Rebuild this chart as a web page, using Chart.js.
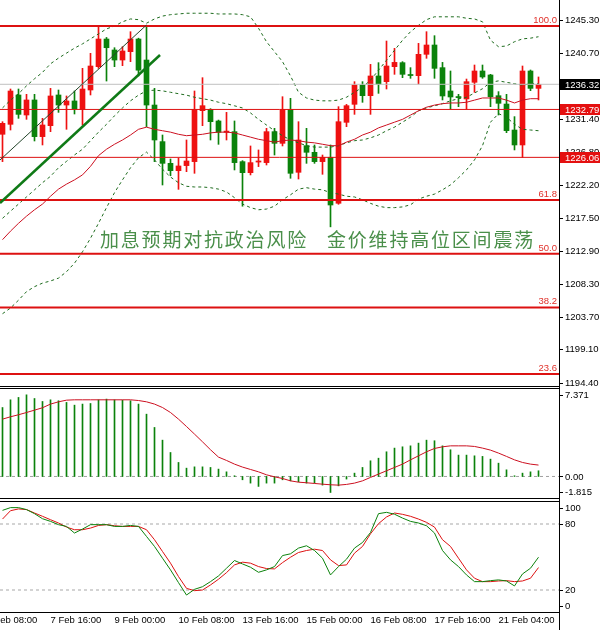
<!DOCTYPE html>
<html>
<head>
<meta charset="utf-8">
<script src="https://cdn.jsdelivr.net/npm/chart.js@4.4.0/dist/chart.umd.min.js"></script>
<style>
  html, body { margin: 0; padding: 0; background: #fff; }
  #wrap { position: relative; width: 600px; height: 630px; overflow: hidden; }
  #wrap canvas { position: absolute; left: 0; }
</style>
</head>
<body>
<div id="wrap">
  <canvas id="mainChart" width="600" height="387" style="top:0"></canvas>
  <canvas id="macdChart" width="600" height="113" style="top:387px"></canvas>
  <canvas id="stochChart" width="600" height="130" style="top:500px"></canvas>
</div>
<script>
// H4 gold candles, 6 Feb .. 21 Feb
const opens = [1229.30,1230.70,1234.82,1232.01,1234.12,1228.97,1230.51,1234.82,1233.41,1233.98,
  1232.81,1235.52,1238.80,1242.68,1241.14,1239.73,1240.90,1242.68,1239.73,1233.41,
  1228.27,1225.22,1224.19,1224.90,1225.46,1232.62,1232.81,1231.17,1229.58,1229.67,
  1225.46,1223.91,1225.40,1225.32,1229.67,1228.03,1232.81,1223.96,1227.70,1226.77,
  1225.46,1226.07,1219.61,1230.98,1233.51,1236.22,1234.72,1237.49,1236.69,1238.80,
  1239.36,1237.70,1237.53,1240.53,1241.84,1238.66,1235.38,1234.60,1234.26,1236.60,
  1238.19,1237.63,1234.72,1233.55,1229.90,1227.80,1238.19,1235.75];
const highs = [1231.07,1235.66,1235.66,1234.91,1234.91,1231.54,1235.75,1235.52,1234.68,1235.38,
  1238.56,1240.67,1244.55,1242.90,1241.46,1241.60,1243.71,1242.80,1244.51,1235.75,
  1229.20,1225.83,1225.93,1228.50,1235.38,1237.25,1232.90,1231.30,1232.38,1231.17,
  1225.60,1227.66,1227.10,1230.14,1230.14,1234.58,1234.35,1231.07,1230.14,1227.80,
  1226.39,1227.80,1233.18,1233.50,1236.69,1236.69,1239.12,1239.36,1242.40,1241.37,
  1239.50,1238.66,1242.07,1243.71,1243.15,1239.40,1238.19,1234.91,1237.06,1239.03,
  1239.03,1237.72,1235.29,1234.91,1231.78,1238.89,1238.33,1237.35];
const lows = [1225.46,1229.90,1231.54,1231.40,1228.36,1227.80,1229.67,1232.38,1230.00,1232.15,
  1230.61,1234.82,1238.56,1236.78,1238.80,1238.94,1239.50,1237.50,1230.37,1225.46,
  1222.18,1223.49,1221.57,1224.05,1223.82,1230.51,1228.50,1227.89,1228.50,1224.29,
  1219.20,1223.59,1224.76,1224.99,1226.39,1227.66,1223.12,1223.02,1225.22,1225.22,
  1223.68,1216.30,1219.47,1230.37,1232.10,1233.79,1232.10,1235.05,1235.66,1237.72,
  1237.25,1237.16,1236.36,1239.97,1237.16,1234.12,1232.85,1233.18,1232.85,1235.19,
  1237.16,1233.18,1232.01,1229.53,1227.10,1226.06,1235.43,1234.12];
const closes = [1230.84,1235.38,1232.10,1234.12,1228.97,1230.61,1234.68,1233.41,1233.98,1232.85,
  1235.66,1238.89,1242.68,1241.46,1239.73,1241.00,1242.68,1238.30,1233.41,1228.50,
  1225.22,1224.19,1224.85,1225.55,1232.81,1233.32,1231.07,1229.58,1229.75,1225.32,
  1223.91,1225.32,1225.55,1229.67,1228.03,1232.81,1223.82,1228.50,1226.77,1225.46,
  1226.07,1219.37,1231.07,1233.32,1236.22,1234.72,1237.49,1236.36,1238.89,1239.40,
  1237.72,1237.55,1240.53,1241.84,1238.56,1234.68,1234.54,1234.45,1236.69,1238.19,
  1237.35,1234.58,1233.65,1229.81,1227.80,1238.19,1235.75,1236.32];

// Bollinger bands and the red moving average
const bbUpper = [1233.0,1234.1,1235.0,1236.1,1237.1,1238.0,1239.2,1240.0,1240.7,1241.4,
  1242.0,1242.7,1243.4,1244.1,1244.5,1245.1,1245.5,1245.4,1244.9,1245.5,
  1245.9,1246.1,1246.2,1246.3,1246.3,1246.3,1246.3,1246.2,1246.2,1246.2,
  1246.1,1245.8,1244.2,1242.3,1240.9,1239.5,1237.5,1235.2,1234.4,1234.1,
  1234.0,1234.0,1234.1,1234.5,1235.2,1235.9,1236.9,1238.3,1239.7,1241.1,
  1242.5,1243.7,1244.6,1245.4,1245.8,1245.8,1245.8,1245.8,1245.6,1245.5,
  1245.1,1242.5,1241.6,1241.7,1242.3,1242.7,1242.8,1243.0];
const bbMid = [1217.5,1218.5,1219.5,1220.5,1221.5,1222.5,1223.4,1224.6,1225.5,1226.4,
  1227.2,1228.4,1229.6,1230.7,1231.9,1233.0,1234.0,1234.8,1235.4,1235.5,
  1235.4,1235.2,1235.0,1234.8,1234.5,1234.3,1234.1,1233.8,1233.6,1233.3,
  1233.0,1232.3,1231.4,1230.6,1229.8,1229.1,1228.5,1228.1,1227.7,1227.5,
  1227.5,1227.5,1227.7,1228.1,1228.4,1228.5,1228.8,1229.2,1229.8,1230.3,
  1231.0,1231.7,1232.6,1233.0,1233.3,1233.6,1234.0,1234.3,1234.5,1235.1,
  1235.7,1236.6,1236.8,1236.6,1236.4,1236.2,1236.4,1236.4];
const bbLower = [1204.1,1204.9,1206.0,1207.2,1207.9,1208.4,1208.7,1209.1,1210.0,1211.2,
  1212.8,1214.7,1216.8,1219.0,1221.1,1222.9,1224.6,1226.0,1226.8,1225.7,
  1224.4,1223.3,1222.5,1222.0,1221.9,1221.9,1221.8,1221.6,1221.2,1220.4,
  1219.5,1219.0,1218.7,1218.8,1219.2,1220.1,1220.8,1221.6,1221.8,1221.6,
  1221.5,1221.1,1220.9,1220.6,1220.5,1220.1,1219.6,1219.2,1219.0,1219.0,
  1219.1,1219.4,1220.2,1220.6,1220.9,1221.5,1222.2,1223.2,1224.3,1225.7,
  1227.7,1231.0,1232.2,1231.7,1230.7,1230.0,1229.9,1229.8];
const maRed = [1214.5,1215.7,1216.8,1217.8,1218.7,1219.5,1220.6,1221.6,1222.3,1222.9,
  1223.6,1224.8,1226.3,1227.2,1227.9,1228.5,1229.2,1230.0,1230.3,1230.0,
  1229.8,1229.6,1229.3,1229.1,1229.2,1229.3,1229.5,1229.6,1229.6,1229.5,
  1229.2,1228.9,1228.6,1228.4,1228.2,1228.4,1228.5,1228.4,1228.2,1228.1,
  1227.9,1227.7,1227.7,1228.2,1228.6,1229.2,1229.6,1230.2,1230.6,1231.0,
  1231.4,1232.0,1232.6,1233.1,1233.4,1233.6,1233.7,1233.7,1233.8,1234.1,
  1234.4,1234.4,1234.4,1234.1,1233.7,1234.1,1234.3,1234.3];

// MACD
const macdHist = [5.81,6.46,6.66,6.88,6.57,6.32,6.46,6.38,6.24,6.01,
  6.10,6.15,6.46,6.52,6.46,6.43,6.38,6.10,5.25,4.13,
  3.06,2.02,1.18,0.70,0.81,0.81,0.76,0.62,0.39,0.06,
  -0.28,-0.56,-0.84,-0.56,-0.56,-0.28,-0.37,-0.45,-0.56,-0.56,
  -0.73,-1.35,-0.79,-0.22,0.28,0.76,1.32,1.54,2.08,2.39,
  2.50,2.58,2.81,3.06,3.01,2.58,2.25,1.80,1.80,1.74,
  1.69,1.46,1.12,0.56,0.06,0.28,0.39,0.48];
const macdSignal = [4.83,5.03,5.20,5.39,5.59,5.79,6.10,6.29,6.43,6.46,
  6.46,6.46,6.46,6.46,6.46,6.46,6.46,6.40,6.29,6.10,
  5.81,5.39,4.83,4.21,3.57,2.92,2.25,1.63,1.35,1.04,
  0.79,0.59,0.39,0.14,-0.03,-0.17,-0.37,-0.48,-0.53,-0.59,
  -0.65,-0.70,-0.73,-0.67,-0.56,-0.37,-0.08,0.20,0.48,0.76,
  1.04,1.40,1.74,2.08,2.36,2.50,2.58,2.58,2.58,2.53,
  2.39,2.22,1.97,1.69,1.40,1.18,1.04,0.96];

// Stochastic
const stochK = [92.4,94.9,94.9,93.1,89.4,84.8,82.4,79.4,77.8,71.8,
  75.4,79.4,79.4,79.4,77.8,77.8,78.7,77.8,68.7,59.6,
  48.9,38.3,26.7,15.4,20.6,23.0,27.6,32.8,39.8,46.8,
  43.7,40.7,36.1,38.3,41.3,51.3,52.9,58.1,60.2,55.9,
  48.9,33.7,41.3,48.0,58.1,63.2,72.3,89.4,90.6,88.9,
  85.4,82.4,80.9,78.4,71.8,55.9,47.4,41.3,33.7,27.6,
  27.6,28.5,29.2,28.2,23.7,34.6,39.8,49.8];
const stochD = [84.5,92.1,93.7,93.1,90.0,87.0,83.9,80.9,77.2,74.8,
  74.8,76.3,78.7,79.4,78.4,77.8,77.8,77.8,74.8,65.7,
  55.0,44.4,32.2,21.5,19.4,20.0,24.6,29.8,35.8,42.8,
  45.3,44.4,41.3,39.5,39.2,44.9,49.8,54.1,55.9,57.1,
  55.9,47.4,42.2,42.8,53.5,59.6,71.1,80.3,86.4,90.0,
  88.8,87.0,84.5,81.5,77.2,65.7,59.6,48.9,38.3,30.7,
  27.6,27.6,28.2,28.5,27.6,28.2,30.7,40.4];

// levels and labels
const fibLevels = [1244.51, 1220.07, 1212.52, 1204.97, 1195.63];
const fibLabels = ['100.0', '61.8', '50.0', '38.2', '23.6'];
const thinLevels = [1232.79, 1226.06];
const lastPrice = 1236.32;
const priceTicks = [1245.30,1240.70,1236.00,1231.40,1226.80,1222.20,1217.50,1212.90,1208.30,1203.70,1199.10,1194.40];
const macdTicks = [7.371, 0, -1.815];
const macdTickLabels = ['7.371', '0.00', '-1.815'];
const stochTicks = [100, 80, 20, 0];
const timeTicks = [-2, 6, 14, 22, 30, 38, 46, 54, 62];
const timeLabels = ['6 Feb 08:00','7 Feb 16:00','9 Feb 00:00','10 Feb 08:00','13 Feb 16:00',
  '15 Feb 00:00','16 Feb 08:00','17 Feb 16:00','21 Feb 04:00'];
// trend lines: [start, end] as {bar index, price}
const trendThick = [{x: -0.3125, y: 1219.65}, {x: 19.69, y: 1240.43}];
const trendThin = [{x: -0.3125, y: 1225.69}, {x: 18, y: 1244.65}];
const noteText = ['加息预期对抗政治风险', '金价维持高位区间震荡'];
const noteAt = [{x: 12.19, y: 1214.45}, {x: 40.56, y: 1214.45}];

const X_MIN = -0.3125, X_MAX = 69.5625;
const UP = '#ee1111', DOWN = '#0b820b', LINE_RED = '#dd1111';
const AXIS_FONT = '9.5px "Liberation Sans", Arial, sans-serif';

Chart.defaults.font.family = '"Liberation Sans", Arial, sans-serif';

const pts = arr => arr.map((v, i) => ({x: i, y: v}));
const hline = v => [{x: X_MIN, y: v}, {x: X_MAX, y: v}];
const lineDs = (data, color, width, dash, order) => ({
  type: 'line', data, borderColor: color, borderWidth: width, borderDash: dash || [],
  pointRadius: 0, tension: 0, fill: false, order: order
});
const candleColor = ctx => closes[ctx.dataIndex] >= opens[ctx.dataIndex] ? UP : DOWN;

const xScale = {type: 'linear', min: X_MIN, max: X_MAX, offset: false, display: false, grid: {offset: false}};

// right price axis, borders and extra marks drawn in the library's coordinates
function panelPlugin(opt) {
  return {
    id: 'panel',
    afterDraw(chart) {
      const {ctx, chartArea: a} = chart;
      const y = chart.scales.y, x = chart.scales.x;
      ctx.save();
      ctx.fillStyle = '#000';
      ctx.fillRect(a.right, 0, 1, chart.height);
      opt.borders.forEach(by => ctx.fillRect(0, by, a.right + 1, 1));
      ctx.font = AXIS_FONT;
      ctx.textAlign = 'left';
      ctx.textBaseline = 'middle';
      opt.ticks.forEach((v, k) => {
        let py = y.getPixelForValue(v);
        py = Math.min(Math.max(py, a.top + opt.inset), a.bottom - opt.inset);
        ctx.fillRect(a.right + 1, Math.round(py), 3, 1);
        ctx.fillText(opt.labels[k], a.right + 6, py + 0.5);
      });
      if (opt.extra) opt.extra(chart, ctx, a, x, y);
      ctx.restore();
    }
  };
}

new Chart(document.getElementById('mainChart'), {
  type: 'bar',
  data: {
    datasets: [
      {type: 'bar', data: lows.map((l, i) => ({x: i, y: [l, highs[i]]})), backgroundColor: candleColor,
        barThickness: 1, grouped: false, order: 20},
      {type: 'bar', data: opens.map((o, i) => ({x: i, y: [Math.min(o, closes[i]), Math.max(o, closes[i])]})),
        backgroundColor: candleColor, barThickness: 5, minBarLength: 1, grouped: false, order: 19},
      lineDs(pts(bbUpper), '#1d6b1d', 1, [3, 3], 10),
      lineDs(pts(bbMid), '#1d6b1d', 1, [3, 3], 10),
      lineDs(pts(bbLower), '#1d6b1d', 1, [3, 3], 10),
      lineDs(pts(maRed), '#cc1020', 1, [], 9),
      lineDs(hline(lastPrice), '#c0c0c0', 1, [], 8),
      ...thinLevels.map(v => lineDs(hline(v), LINE_RED, 1, [], 7)),
      ...fibLevels.map(v => lineDs(hline(v), LINE_RED, 2, [], 6)),
      lineDs(trendThin, '#24452a', 1, [], 5),
      lineDs(trendThick, '#0f7a16', 2.5, [], 4)
    ]
  },
  options: {
    responsive: false, animation: false, events: [],
    layout: {padding: {left: 0, right: 41, top: 0, bottom: 1}},
    plugins: {legend: {display: false}, tooltip: {enabled: false}},
    scales: {x: xScale, y: {min: 1193.95, max: 1248.16, display: false}}
  },
  plugins: [panelPlugin({
    borders: [386], inset: 3, ticks: priceTicks, labels: priceTicks.map(v => v.toFixed(2)),
    extra(chart, ctx, a, x, y) {
      // fibonacci level captions
      ctx.textAlign = 'right';
      ctx.textBaseline = 'bottom';
      ctx.fillStyle = '#e0302a';
      fibLevels.forEach((v, k) => ctx.fillText(fibLabels[k], a.right - 2, y.getPixelForValue(v) - 1));
      // price boxes on the axis
      ctx.textAlign = 'left';
      ctx.textBaseline = 'middle';
      [[lastPrice, '#000'], [thinLevels[0], '#e41010'], [thinLevels[1], '#e41010']].forEach(([v, c]) => {
        const py = Math.round(y.getPixelForValue(v));
        ctx.fillStyle = c;
        ctx.fillRect(a.right + 1, py - 5, 40, 11);
        ctx.fillStyle = '#fff';
        ctx.fillText(v.toFixed(2), a.right + 6, py + 1);
      });
      // headline
      ctx.font = '19px "Noto Sans CJK SC", sans-serif';
      ctx.letterSpacing = '1.8px';
      ctx.fillStyle = '#4a8f4a';
      noteText.forEach((t, k) => ctx.fillText(t, x.getPixelForValue(noteAt[k].x), y.getPixelForValue(noteAt[k].y)));
    }
  })]
});

new Chart(document.getElementById('macdChart'), {
  type: 'bar',
  data: {
    datasets: [
      {type: 'bar', data: pts(macdHist), backgroundColor: '#0b820b', barThickness: 1, grouped: false, order: 5},
      lineDs(hline(0), '#a0a0a0', 1, [3, 3], 6),
      lineDs(pts(macdSignal), '#cc1020', 1, [], 1)
    ]
  },
  options: {
    responsive: false, animation: false, events: [],
    layout: {padding: {left: 0, right: 41, top: 2, bottom: 2}},
    plugins: {legend: {display: false}, tooltip: {enabled: false}},
    scales: {x: xScale, y: {min: -1.815, max: 7.371, display: false}}
  },
  plugins: [panelPlugin({borders: [1, 111], inset: 6, ticks: macdTicks, labels: macdTickLabels})]
});

new Chart(document.getElementById('stochChart'), {
  type: 'line',
  data: {
    datasets: [
      lineDs(hline(80), '#a8a8a8', 1, [3, 3], 5),
      lineDs(hline(20), '#a8a8a8', 1, [3, 3], 5),
      lineDs(pts(stochD), '#dd1111', 1, [], 2),
      lineDs(pts(stochK), '#0b820b', 1, [], 1)
    ]
  },
  options: {
    responsive: false, animation: false, events: [],
    layout: {padding: {left: 0, right: 41, top: 2, bottom: 0}},
    plugins: {legend: {display: false}, tooltip: {enabled: false}},
    scales: {
      x: {
        type: 'linear', min: X_MIN, max: X_MAX, offset: false, position: 'bottom',
        grid: {display: false, drawTicks: false}, border: {display: false},
        ticks: {
          autoSkip: false, maxRotation: 0, minRotation: 0, align: 'start', padding: 3, color: '#000',
          font: {size: 9.5},
          callback: v => { const k = timeTicks.indexOf(v); return k < 0 ? '' : timeLabels[k]; }
        },
        afterBuildTicks: s => { s.ticks = timeTicks.map(v => ({value: v})); },
        afterFit: s => { s.height = 18; s.paddingLeft = 0; s.paddingRight = 0; }
      },
      y: {min: 0, max: 100, display: false}
    }
  },
  plugins: [panelPlugin({borders: [1, 112], inset: 6, ticks: stochTicks, labels: stochTicks.map(String)})]
});
</script>
</body>
</html>
